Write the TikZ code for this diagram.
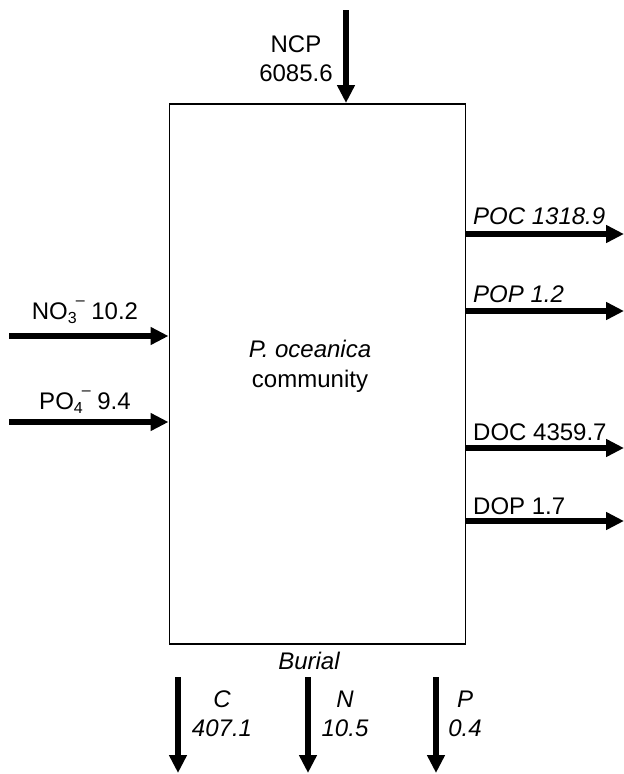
\documentclass[tikz,border=0pt]{standalone}
\usepackage{fontspec}
\setmainfont{Liberation Sans}
\usetikzlibrary{arrows.meta}
\newcommand{\smallscr}{\fontsize{16}{16}\selectfont}
\newcommand{\ionlbl}[2]{#1\raisebox{-0.35ex}{\smallscr #2}\kern-1pt\raisebox{1.05ex}{\smallscr\textendash}}
\begin{document}
\begin{tikzpicture}[x=1pt,y=-1pt,
  flow/.style={line width=5.5pt,-{Triangle[length=18pt,width=17pt]}},
  lbl/.style={font=\fontsize{24}{29}\selectfont,inner sep=0pt,anchor=base},
  box/.style={draw,line width=1.6pt,inner sep=0pt}]
\useasboundingbox (0,0) rectangle (624,774);
\node[box,minimum width=296pt,minimum height=540pt,anchor=north west] (comm) at (168.5,103) {};
\node[lbl] (ctext1) at (310,357) {\itshape P. oceanica};
\node[lbl] (ctext2) at (310,387) {community};
% NCP
\coordinate (ncps) at (346,10);
\draw[flow] (ncps) -- (ncps |- comm.north);
\node[lbl] (ncp1) at (296,52) {NCP};
\node[lbl] (ncp2) at (296,81) {6085.6};
% inputs
\coordinate (no3s) at (9,336);
\coordinate (po4s) at (9,422);
\draw[flow] (no3s) -- (no3s -| comm.west);
\draw[flow] (po4s) -- (po4s -| comm.west);
\node[lbl] (no3) at (85,319) {\ionlbl{NO}{3} 10.2};
\node[lbl] (po4) at (85,409) {\ionlbl{PO}{4} 9.4};
% outputs
\coordinate (poce) at (624,234);
\coordinate (pope) at (624,311);
\coordinate (doce) at (624,448);
\coordinate (dope) at (624,521);
\draw[flow] (poce -| comm.east) -- (poce);
\draw[flow] (pope -| comm.east) -- (pope);
\draw[flow] (doce -| comm.east) -- (doce);
\draw[flow] (dope -| comm.east) -- (dope);
\node[lbl,anchor=base west] (poc) at (473,224) {\itshape POC 1318.9};
\node[lbl,anchor=base west] (pop) at (473,302) {\itshape POP 1.2};
\node[lbl,anchor=base west] (doc) at (473,440) {DOC 4359.7};
\node[lbl,anchor=base west] (dop) at (473,514) {DOP 1.7};
% burial
\node[lbl] (burial) at (309,669) {\itshape Burial};
\coordinate (cb) at (178,677);
\coordinate (nb) at (308,677);
\coordinate (pb) at (436,677);
\coordinate (ce) at (178,773);
\coordinate (ne) at (308,773);
\coordinate (pe) at (436,773);
\draw[flow] (cb) -- (ce);
\draw[flow] (nb) -- (ne);
\draw[flow] (pb) -- (pe);
\node[lbl] (cl1) at (222,707) {\itshape C};
\node[lbl] (cl2) at (222,736) {\itshape 407.1};
\node[lbl] (nl1) at (345,707) {\itshape N};
\node[lbl] (nl2) at (345,736) {\itshape 10.5};
\node[lbl] (pl1) at (465,707) {\itshape P};
\node[lbl] (pl2) at (465,736) {\itshape 0.4};
\end{tikzpicture}
\end{document}
